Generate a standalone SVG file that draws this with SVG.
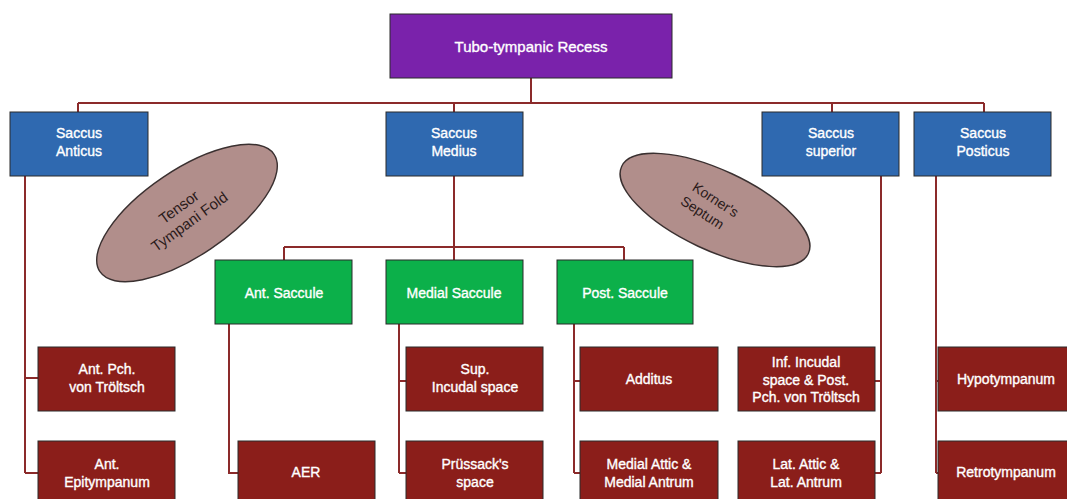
<svg xmlns="http://www.w3.org/2000/svg" width="1067" height="499" viewBox="0 0 1067 499">
<style>
.box{stroke:#2a2a2a;stroke-width:1}
.top{fill:#7a22ab}
.sac{fill:#2f69b0}
.sub{fill:#0cb04a}
.leaf{fill:#8b1e1a}
.t{font-family:"Liberation Sans",Arial,sans-serif;font-size:14px;fill:#ffffff;stroke:#ffffff;stroke-width:0.35;text-anchor:middle;dominant-baseline:central}
.et{font-family:"Liberation Sans",Arial,sans-serif;font-size:14px;fill:#2a1a1a;text-anchor:middle;dominant-baseline:central}
.fold{fill:#b18e8b;stroke:#3a3030;stroke-width:1.4}
.c{fill:none;stroke:#8b2a2a;stroke-width:2}
</style>
<rect width="1067" height="499" fill="#ffffff"/>
<g id="connectors">
<path class="c" d="M531 78V103M78 103H984M78 103V112M454 103V112M832 103V112M984 103V112"/>
<path class="c" d="M454 176V247M284 247H624M284 247V260M454 247V260M624 247V260"/>
<path class="c" d="M25 176V473M25 378H38M25 473H38"/>
<path class="c" d="M229 324V473H238"/>
<path class="c" d="M399 324V473M399 381H406M399 473H406"/>
<path class="c" d="M574 324V473M574 381H580M574 473H580"/>
<path class="c" d="M881 176V473M881 381H875M881 473H875"/>
<path class="c" d="M936 176V473M936 381H938M936 473H938"/>
</g>
<g id="tubo"><rect class="box top" x="390" y="14" width="282" height="64"/><text class="t" x="531" y="46" style="font-size:15px">Tubo-tympanic Recess</text></g>
<g id="saccus-anticus"><rect class="box sac" x="10" y="112" width="138" height="64"/><text class="t" x="79" y="133">Saccus</text><text class="t" x="79" y="151">Anticus</text></g>
<g id="saccus-medius"><rect class="box sac" x="386" y="112" width="137" height="64"/><text class="t" x="454" y="133">Saccus</text><text class="t" x="454" y="151">Medius</text></g>
<g id="saccus-superior"><rect class="box sac" x="762" y="112" width="137" height="64"/><text class="t" x="831" y="133">Saccus</text><text class="t" x="831" y="151">superior</text></g>
<g id="saccus-posticus"><rect class="box sac" x="914" y="112" width="137" height="64"/><text class="t" x="983" y="133">Saccus</text><text class="t" x="983" y="151">Posticus</text></g>
<g id="tensor-fold"><ellipse class="fold" cx="187" cy="213" rx="105" ry="43" transform="rotate(-34 187 213)"/><g transform="rotate(-36 184 214)"><text class="et" x="184" y="205" style="font-size:15px">Tensor</text><text class="et" x="184" y="223" style="font-size:15px">Tympani Fold</text></g></g>
<g id="korner-septum"><ellipse class="fold" cx="715" cy="210" rx="103" ry="40" transform="rotate(25 715 210)"/><g transform="rotate(33 709 206)"><text class="et" x="711" y="197">Korner's</text><text class="et" x="707" y="215">Septum</text></g></g>
<g id="ant-saccule"><rect class="box sub" x="215" y="260" width="137" height="64"/><text class="t" x="284" y="293">Ant. Saccule</text></g>
<g id="medial-saccule"><rect class="box sub" x="386" y="260" width="137" height="64"/><text class="t" x="454" y="293">Medial Saccule</text></g>
<g id="post-saccule"><rect class="box sub" x="557" y="260" width="136" height="64"/><text class="t" x="625" y="293">Post. Saccule</text></g>
<g id="ant-pch"><rect class="box leaf" x="38" y="347" width="137" height="64"/><text class="t" x="107" y="369">Ant. Pch.</text><text class="t" x="107" y="387">von Tröltsch</text></g>
<g id="ant-epi"><rect class="box leaf" x="38" y="441" width="137" height="64"/><text class="t" x="107" y="464">Ant.</text><text class="t" x="107" y="482">Epitympanum</text></g>
<g id="aer"><rect class="box leaf" x="238" y="441" width="137" height="64"/><text class="t" x="306" y="472">AER</text></g>
<g id="sup-incudal"><rect class="box leaf" x="406" y="347" width="137" height="64"/><text class="t" x="475" y="369">Sup.</text><text class="t" x="475" y="387">Incudal space</text></g>
<g id="prussack"><rect class="box leaf" x="406" y="441" width="137" height="64"/><text class="t" x="475" y="464">Prüssack's</text><text class="t" x="475" y="482">space</text></g>
<g id="additus"><rect class="box leaf" x="580" y="347" width="138" height="64"/><text class="t" x="649" y="379">Additus</text></g>
<g id="medial-attic"><rect class="box leaf" x="580" y="441" width="138" height="64"/><text class="t" x="649" y="464">Medial Attic &amp;</text><text class="t" x="649" y="482">Medial Antrum</text></g>
<g id="inf-incudal"><rect class="box leaf" x="738" y="347" width="137" height="64"/><text class="t" x="806" y="362">Inf. Incudal</text><text class="t" x="806" y="380">space &amp; Post.</text><text class="t" x="806" y="397">Pch. von Tröltsch</text></g>
<g id="lat-attic"><rect class="box leaf" x="738" y="441" width="137" height="64"/><text class="t" x="806" y="464">Lat. Attic &amp;</text><text class="t" x="806" y="482">Lat. Antrum</text></g>
<g id="hypotympanum"><rect class="box leaf" x="938" y="347" width="137" height="64"/><text class="t" x="1006" y="379">Hypotympanum</text></g>
<g id="retrotympanum"><rect class="box leaf" x="938" y="441" width="137" height="64"/><text class="t" x="1006" y="472">Retrotympanum</text></g>
</svg>
